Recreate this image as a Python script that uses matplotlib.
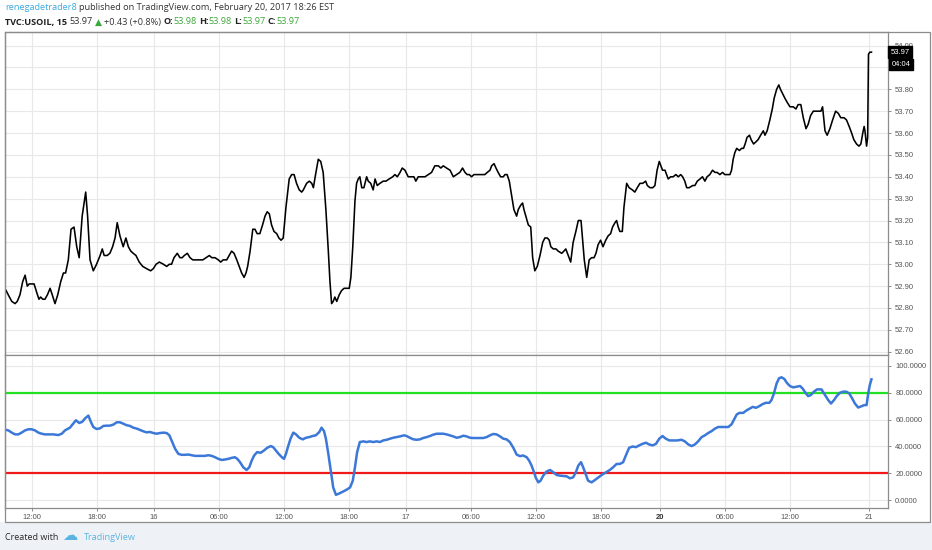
import matplotlib
matplotlib.use("Agg")
import matplotlib.pyplot as plt
from matplotlib.patches import Rectangle
from matplotlib.ticker import MultipleLocator, FormatStrFormatter, FuncFormatter

# ---- data (x = 15-minute bar number from the left edge of the chart) ----
price_bar = [
    0.4, 1.2, 2.5, 3.7, 4.5, 5.5, 6.5, 7.4, 8.2, 8.9,
    9.8, 10.7, 11.7, 12.5, 13.1, 13.9, 14.7, 15.6, 16.6, 17.4,
    18.4, 19.4, 20.5, 21.5, 22.3, 23.3, 24.3, 25.4, 26.4, 27.3,
    28.4, 29.7, 30.4, 31.3, 32.5, 33.7, 35.0, 35.8, 36.5, 37.6,
    38.6, 39.6, 40.5, 41.3, 42.3, 43.5, 44.5, 45.4, 46.3, 47.2,
    48.2, 49.4, 50.7, 52.1, 53.6, 54.6, 55.6, 56.8, 58.3, 59.5,
    60.5, 61.3, 62.2, 63.4, 64.4, 65.2, 66.0, 67.1, 68.1, 69.1,
    70.3, 71.5, 72.8, 74.0, 75.2, 76.1, 77.3, 78.5, 79.4, 80.3,
    81.6, 82.5, 83.4, 84.3, 85.3, 86.2, 87.1, 88.0, 88.7, 89.3,
    90.2, 91.2, 92.0, 92.8, 93.8, 94.8, 95.7, 96.5, 97.3, 98.1,
    99.0, 100.0, 100.8, 101.6, 102.4, 103.4, 104.6, 105.5, 106.4, 107.3,
    108.3, 109.2, 109.8, 111.0, 112.0, 112.9, 113.5, 114.3, 115.3, 116.2,
    117.1, 118.1, 119.0, 119.6, 120.2, 120.8, 121.4, 122.1, 123.0, 123.9,
    124.8, 125.7, 126.7, 127.3, 128.0, 128.8, 129.4, 130.0, 130.6, 131.3,
    132.1, 133.1, 133.7, 134.6, 135.5, 136.2, 137.0, 138.0, 139.2, 140.2,
    141.4, 142.7, 143.5, 144.4, 145.4, 146.2, 147.2, 148.4, 149.7, 150.5,
    151.2, 152.1, 153.3, 154.6, 155.8, 157.0, 158.2, 159.5, 160.4, 161.3,
    162.5, 163.8, 165.0, 166.2, 167.4, 168.4, 169.3, 170.1, 170.9, 171.7,
    172.6, 173.6, 174.5, 175.7, 176.6, 177.5, 178.5, 179.1, 180.0, 180.7,
    181.5, 182.4, 183.4, 184.0, 184.8, 185.6, 186.5, 187.3, 188.3, 188.9,
    189.8, 190.5, 191.0, 191.7, 192.6, 193.5, 193.8, 194.2, 195.0, 195.9,
    196.9, 197.9, 198.7, 199.6, 200.3, 200.9, 201.8, 202.8, 203.6, 204.9,
    205.7, 206.4, 207.3, 208.2, 209.1, 210.1, 211.0, 212.0, 212.6, 213.2,
    214.1, 215.0, 215.9, 216.8, 217.5, 218.3, 219.2, 220.1, 221.1, 222.0,
    222.9, 223.6, 224.5, 225.1, 225.7, 226.3, 227.2, 227.8, 228.8, 229.7,
    230.9, 231.8, 232.7, 233.7, 234.7, 235.8, 236.4, 237.4, 238.4, 239.2,
    240.0, 240.8, 241.4, 242.0, 242.9, 243.5, 244.1, 245.0, 245.9, 246.9,
    247.8, 248.7, 249.4, 250.2, 250.9, 251.8, 253.1, 253.9, 254.8, 255.8,
    256.7, 257.6, 258.4, 259.4, 260.4, 261.3, 262.1, 263.1, 264.1, 264.9,
    265.8, 266.8, 267.4, 268.0, 268.6, 269.3, 270.3, 271.1, 271.8, 272.4,
    273.1, 274.0, 274.6, 275.5, 276.4, 277.2, 278.1, 279.1, 279.7, 280.5,
    281.5, 282.4, 283.1, 284.0, 284.8, 285.4, 286.2, 287.0, 287.9, 288.9,
    290.1, 291.1, 291.9, 292.9, 293.8, 294.8, 295.6, 296.5, 297.5, 298.5,
    299.3, 300.3, 300.9, 301.8, 302.6, 303.6, 304.6, 305.7, 306.7, 307.6,
    308.8, 309.7, 310.7, 311.6, 312.4, 313.4, 314.3, 315.0, 315.7, 316.2,
    316.5, 317.1, 317.5, 317.8, 318.3, 318.9,
]
price_close = [
    52.88, 52.86, 52.83, 52.82, 52.83, 52.86, 52.92, 52.95, 52.90, 52.91,
    52.91, 52.91, 52.87, 52.84, 52.85, 52.84, 52.84, 52.86, 52.89, 52.86,
    52.82, 52.86, 52.92, 52.96, 52.96, 53.02, 53.16, 53.17, 53.08, 53.03,
    53.22, 53.33, 53.22, 53.02, 52.97, 53.00, 53.04, 53.07, 53.04, 53.04,
    53.05, 53.08, 53.12, 53.19, 53.13, 53.08, 53.12, 53.08, 53.06, 53.05,
    53.04, 53.01, 52.99, 52.98, 52.97, 52.98, 53.00, 53.01, 53.00, 52.99,
    53.00, 53.00, 53.03, 53.05, 53.03, 53.03, 53.04, 53.05, 53.03, 53.02,
    53.02, 53.02, 53.02, 53.03, 53.04, 53.03, 53.03, 53.02, 53.01, 53.02,
    53.02, 53.04, 53.06, 53.05, 53.02, 52.99, 52.96, 52.94, 52.96, 52.99,
    53.06, 53.16, 53.16, 53.14, 53.14, 53.18, 53.22, 53.24, 53.23, 53.18,
    53.15, 53.14, 53.12, 53.11, 53.12, 53.26, 53.39, 53.41, 53.41, 53.37,
    53.34, 53.33, 53.34, 53.37, 53.38, 53.37, 53.35, 53.41, 53.48, 53.47,
    53.42, 53.25, 53.06, 52.92, 52.82, 52.83, 52.85, 52.83, 52.86, 52.88,
    52.89, 52.89, 52.89, 52.94, 53.08, 53.29, 53.37, 53.39, 53.40, 53.35,
    53.35, 53.40, 53.38, 53.37, 53.34, 53.39, 53.36, 53.37, 53.38, 53.38,
    53.39, 53.40, 53.41, 53.40, 53.42, 53.44, 53.43, 53.40, 53.40, 53.40,
    53.38, 53.40, 53.40, 53.40, 53.41, 53.42, 53.45, 53.45, 53.44, 53.45,
    53.44, 53.43, 53.40, 53.41, 53.42, 53.44, 53.42, 53.41, 53.41, 53.40,
    53.41, 53.41, 53.41, 53.41, 53.41, 53.42, 53.43, 53.45, 53.46, 53.44,
    53.42, 53.40, 53.40, 53.41, 53.41, 53.38, 53.31, 53.25, 53.22, 53.25,
    53.27, 53.28, 53.25, 53.22, 53.18, 53.17, 53.11, 53.03, 52.97, 52.99,
    53.04, 53.10, 53.12, 53.12, 53.11, 53.08, 53.07, 53.07, 53.06, 53.05,
    53.06, 53.07, 53.04, 53.01, 53.10, 53.15, 53.20, 53.20, 53.11, 53.02,
    52.94, 53.02, 53.03, 53.03, 53.05, 53.09, 53.11, 53.08, 53.11, 53.13,
    53.14, 53.17, 53.19, 53.20, 53.17, 53.15, 53.15, 53.26, 53.37, 53.35,
    53.34, 53.33, 53.35, 53.37, 53.37, 53.38, 53.36, 53.35, 53.35, 53.36,
    53.43, 53.47, 53.45, 53.43, 53.43, 53.41, 53.39, 53.40, 53.40, 53.41,
    53.40, 53.41, 53.40, 53.38, 53.35, 53.35, 53.36, 53.36, 53.38, 53.39,
    53.40, 53.38, 53.40, 53.41, 53.43, 53.42, 53.42, 53.41, 53.42, 53.41,
    53.41, 53.41, 53.43, 53.48, 53.51, 53.53, 53.52, 53.53, 53.53, 53.55,
    53.58, 53.59, 53.57, 53.55, 53.56, 53.57, 53.59, 53.61, 53.59, 53.61,
    53.66, 53.71, 53.76, 53.80, 53.82, 53.80, 53.78, 53.76, 53.74, 53.72,
    53.72, 53.71, 53.73, 53.73, 53.67, 53.62, 53.64, 53.68, 53.70, 53.70,
    53.70, 53.70, 53.72, 53.61, 53.59, 53.62, 53.66, 53.70, 53.69, 53.67,
    53.67, 53.66, 53.63, 53.60, 53.57, 53.55, 53.54, 53.55, 53.60, 53.63,
    53.61, 53.54, 53.58, 53.96, 53.97, 53.97,
]

osc_bar = [
    0.0, 1.2, 2.5, 3.7, 4.9, 6.1, 7.4, 8.6, 9.8, 11.0,
    12.3, 13.5, 14.7, 16.6, 17.8, 19.6, 20.9, 22.1, 23.9, 25.1,
    26.1, 27.3, 28.4, 29.4, 30.7, 31.5, 32.5, 33.7, 35.0, 36.2,
    37.4, 38.6, 39.9, 41.1, 42.3, 43.5, 44.8, 46.0, 47.2, 48.5,
    49.7, 50.9, 52.1, 53.4, 54.6, 55.8, 57.0, 58.3, 59.5, 60.5,
    61.3, 62.6, 63.8, 65.0, 66.2, 67.5, 68.7, 69.9, 71.8, 73.6,
    74.8, 76.1, 77.3, 78.5, 79.7, 81.0, 82.2, 83.4, 84.6, 85.5,
    86.5, 87.7, 88.9, 89.9, 90.8, 91.7, 92.8, 94.1, 95.3, 96.5,
    97.8, 98.7, 99.7, 100.7, 101.9, 102.7, 103.4, 104.3, 105.1, 106.1,
    107.1, 108.3, 109.6, 110.8, 112.0, 113.2, 114.4, 115.7, 116.5, 117.4,
    118.1, 119.0, 119.9, 120.8, 121.8, 123.0, 124.3, 125.7, 127.0, 128.0,
    128.8, 129.6, 130.6, 131.9, 133.1, 134.3, 135.5, 136.8, 138.0, 139.2,
    140.5, 141.7, 142.9, 144.1, 145.4, 146.8, 147.8, 149.0, 150.3, 151.5,
    152.7, 153.9, 155.2, 156.4, 157.6, 158.9, 160.1, 161.3, 162.5, 165.0,
    166.2, 167.4, 168.7, 169.9, 171.1, 172.3, 173.6, 174.8, 176.0, 177.3,
    178.5, 179.7, 180.9, 182.2, 183.4, 184.6, 185.8, 187.1, 188.3, 189.5,
    190.7, 192.0, 192.9, 193.8, 194.7, 195.4, 196.3, 197.1, 198.1, 199.3,
    200.6, 201.8, 203.0, 204.2, 205.5, 206.7, 207.9, 209.1, 210.1, 211.0,
    212.0, 212.8, 213.7, 214.6, 215.9, 217.1, 218.4, 219.6, 220.8, 222.6,
    223.8, 225.1, 226.3, 227.5, 228.5, 229.7, 231.0, 232.2, 233.4, 234.7,
    235.9, 237.1, 238.4, 239.6, 240.8, 242.0, 243.2, 244.5, 245.9, 247.4,
    249.0, 250.2, 251.5, 252.7, 253.9, 255.1, 256.4, 257.6, 258.8, 260.1,
    261.3, 262.5, 263.7, 265.0, 266.2, 267.4, 268.4, 269.3, 270.3, 271.7,
    273.0, 274.2, 275.2, 276.4, 277.6, 278.8, 280.0, 281.3, 282.1, 283.0,
    284.0, 284.9, 285.8, 286.8, 287.9, 288.9, 290.1, 291.3, 292.6, 293.5,
    294.8, 295.6, 296.6, 297.7, 298.9, 300.5, 301.8, 303.0, 304.0, 305.1,
    306.1, 307.3, 308.5, 309.7, 310.7, 311.8, 312.8, 314.0, 315.3, 316.2,
    317.1, 317.7, 318.3, 318.9,
]
osc_value = [
    52.5, 52.0, 50.3, 49.0, 49.0, 50.3, 52.0, 52.8, 52.8, 52.0,
    50.3, 49.5, 49.0, 49.0, 49.0, 48.5, 49.5, 52.0, 54.0, 57.0,
    59.5, 57.5, 58.3, 60.8, 63.0, 58.8, 54.5, 53.0, 53.5, 55.3,
    55.5, 55.5, 56.3, 58.0, 58.0, 57.0, 55.8, 55.3, 54.0, 53.3,
    52.3, 51.3, 50.5, 50.8, 50.0, 49.5, 50.0, 50.3, 50.0, 48.3,
    44.5, 38.3, 34.5, 33.8, 33.8, 34.0, 33.5, 33.0, 33.0, 33.0,
    33.5, 33.0, 32.0, 30.8, 30.0, 30.3, 30.8, 31.5, 32.0, 30.8,
    28.3, 24.5, 22.5, 24.5, 29.5, 33.3, 35.8, 35.3, 37.0, 39.0,
    40.3, 39.5, 37.0, 34.5, 32.0, 30.8, 34.5, 40.8, 45.8, 50.3,
    49.0, 46.5, 45.3, 46.5, 47.0, 47.8, 48.3, 50.8, 54.0, 51.5,
    45.8, 34.5, 22.0, 9.5, 4.0, 5.0, 6.3, 7.8, 9.5, 14.5,
    24.5, 35.8, 43.3, 43.8, 43.3, 43.8, 43.3, 43.8, 43.3, 44.5,
    45.0, 45.8, 46.5, 47.0, 47.5, 48.3, 47.8, 46.5, 45.3, 45.0,
    45.3, 46.3, 47.0, 47.8, 48.8, 49.5, 49.5, 49.5, 49.0, 47.5,
    46.5, 47.0, 48.0, 47.5, 46.5, 46.3, 46.3, 46.3, 46.3, 47.0,
    48.3, 49.3, 49.0, 47.5, 45.8, 45.3, 43.3, 39.0, 34.0, 32.8,
    33.3, 32.0, 29.5, 25.8, 20.8, 16.5, 13.3, 14.5, 18.3, 21.3,
    22.5, 20.8, 18.8, 18.3, 18.0, 17.8, 16.3, 17.0, 20.8, 25.8,
    28.3, 24.5, 19.5, 14.5, 13.3, 15.0, 17.0, 18.8, 20.3, 22.5,
    24.5, 27.0, 27.0, 28.3, 33.3, 39.0, 40.0, 39.5, 40.8, 42.0,
    42.8, 41.5, 40.8, 42.0, 45.8, 47.8, 45.8, 44.5, 44.5, 44.5,
    45.0, 43.8, 41.5, 40.3, 41.5, 43.8, 47.0, 48.3, 50.0, 51.5,
    53.3, 54.5, 54.5, 54.5, 54.5, 56.5, 60.3, 63.8, 65.0, 65.0,
    67.0, 68.3, 69.5, 68.8, 70.0, 71.5, 72.5, 72.5, 74.5, 79.5,
    87.0, 90.8, 91.5, 90.3, 87.0, 85.0, 84.0, 84.5, 85.0, 83.3,
    79.5, 77.5, 78.3, 80.8, 82.5, 82.5, 78.3, 74.5, 72.0, 74.5,
    77.5, 80.0, 80.8, 80.8, 79.5, 75.8, 72.0, 69.0, 70.0, 70.8,
    70.8, 79.5, 85.8, 90.0,
]
upper_band = 80
lower_band = 20

tick_bars = [9.8, 33.7, 54.8, 78.8, 102.8, 126.7, 147.5, 171.5,
             195.5, 219.4, 241.0, 265.1, 289.0, 318.1]
tick_labels = ["12:00", "18:00", "16", "06:00", "12:00", "18:00", "17",
               "06:00", "12:00", "18:00", "20", "06:00", "12:00", "21"]

# ---- layout helpers (pixel -> figure fraction) ----
W, H = 932, 550
fig = plt.figure(figsize=(W / 100, H / 100), dpi=100)
fig.patch.set_facecolor("white")


def fx(px):
    return px / W


def fy(py):
    return 1 - py / H


GRID = "#e8e8e8"
FRAME = "#8c8c8c"
LABEL = "#555555"
AXFONT = "Liberation Sans"

# footer band
fig.patches.append(Rectangle((0, 0), 1, fy(522), transform=fig.transFigure,
                             facecolor="#eef2f6", edgecolor="none", zorder=-5))

left, right = 5, 887.5
ax_p = fig.add_axes([fx(left), fy(355), fx(right) - fx(left), fy(32) - fy(355)])
ax_s = fig.add_axes([fx(left), fy(508), fx(right) - fx(left), fy(355) - fy(508)])

for ax in (ax_p, ax_s):
    ax.set_facecolor("white")
    ax.set_xlim(0, 324.8)
    ax.set_xticks(tick_bars)
    ax.grid(True, color=GRID, linewidth=0.8)
    ax.set_axisbelow(True)
    for sp in ax.spines.values():
        sp.set_color(FRAME)
        sp.set_linewidth(0.9)
    ax.yaxis.tick_right()
    ax.tick_params(axis="y", which="both", direction="out", length=2.5,
                   width=0.7, color=FRAME, labelsize=5.5, labelcolor=LABEL, pad=3)

last = price_close[-1]


def price_fmt(v, pos):
    # the level just under the last-price tag is hidden behind the countdown box
    if last - 0.12 < v < last - 0.03:
        return ""
    return f"{v:.2f}"


# price pane
ax_p.plot(price_bar, price_close, color="black", linewidth=1.15, zorder=3)
ax_p.set_ylim(52.585, 54.062)
ax_p.yaxis.set_major_locator(MultipleLocator(0.1))
ax_p.yaxis.set_major_formatter(FuncFormatter(price_fmt))
ax_p.tick_params(axis="x", length=0, labelbottom=False)
for t in ax_p.get_yticklabels():
    t.set_fontfamily(AXFONT)

ax_p.annotate(f"{last:.2f}", xy=(1, last),
              xycoords=("axes fraction", "data"), xytext=(2.2, 0),
              textcoords="offset points", ha="left", va="center",
              color="white", fontsize=5.5, family=AXFONT,
              bbox=dict(boxstyle="square,pad=0.3", fc="black", ec="black"),
              annotation_clip=False, zorder=10)
ax_p.annotate("04:04", xy=(1, last),
              xycoords=("axes fraction", "data"), xytext=(3.0, -9),
              textcoords="offset points", ha="left", va="center",
              color="white", fontsize=5.5, family=AXFONT,
              bbox=dict(boxstyle="square,pad=0.3", fc="black", ec="black"),
              annotation_clip=False, zorder=10)

# oscillator pane
ax_s.axhline(upper_band, color="#22e022", linewidth=1.6, zorder=2)
ax_s.axhline(lower_band, color="#f01a1a", linewidth=1.6, zorder=2)
ax_s.plot(osc_bar, osc_value, color="#3b78d8", linewidth=1.8, zorder=3)
ax_s.set_ylim(-5.8, 108.1)
ax_s.yaxis.set_major_locator(MultipleLocator(20))
ax_s.yaxis.set_major_formatter(FormatStrFormatter("%.4f"))
ax_s.set_xticklabels(tick_labels)
ax_s.tick_params(axis="x", direction="out", length=2.5, width=0.7, color=FRAME,
                 labelsize=5.5, labelcolor=LABEL, pad=1.5)
for t in ax_s.get_xticklabels() + ax_s.get_yticklabels():
    t.set_fontfamily(AXFONT)
    if t.get_text() == "20":
        t.set_fontweight("bold")
        t.set_color("#333333")

# outer chart frame
fig.patches.append(Rectangle((fx(5), fy(522)), fx(930) - fx(5), fy(32) - fy(522),
                             transform=fig.transFigure, fill=False,
                             edgecolor=FRAME, linewidth=0.9, zorder=5))

# ---- header / footer text ----
renderer = fig.canvas.get_renderer()
HFONT = ["Open Sans", "DejaVu Sans"]


def space_width(size, weight):
    a = fig.text(0, 0, "a a", fontsize=size, fontweight=weight, family=HFONT)
    b = fig.text(0, 0, "aa", fontsize=size, fontweight=weight, family=HFONT)
    w = a.get_window_extent(renderer).width - b.get_window_extent(renderer).width
    a.remove()
    b.remove()
    return w


def text_run(x_px, y_px, pieces, size):
    x = x_px
    for s, color, weight, gap in pieces:
        t = fig.text(fx(x), fy(y_px), s, color=color, fontsize=size,
                     fontweight=weight, family=HFONT, ha="left", va="center")
        x += t.get_window_extent(renderer).width
        x += gap * space_width(size, weight)


DARK = "#333333"
GREEN = "#3aa83a"
text_run(5, 8, [
    ("renegadetrader8", "#3ba9e0", "normal", 1),
    ("published on TradingView.com, February 20, 2017 18:26 EST", DARK, "normal", 0),
], 6.6)
text_run(5, 22, [
    ("TVC:USOIL, 15", "#222222", "bold", 1),
    ("53.97", DARK, "normal", 1),
    ("\u25b2", GREEN, "normal", 1),
    ("+0.43 (+0.8%)", DARK, "normal", 1),
    ("O:", "#222222", "bold", 0),
    ("53.98", GREEN, "normal", 1),
    ("H:", "#222222", "bold", 0),
    ("53.98", GREEN, "normal", 1),
    ("L:", "#222222", "bold", 0),
    ("53.97", GREEN, "normal", 1),
    ("C:", "#222222", "bold", 0),
    ("53.97", GREEN, "normal", 0),
], 6.6)

fig.text(fx(5), fy(537), "Created with", color="#2a2a2a", fontsize=6.5,
         family=HFONT, ha="left", va="center")
fig.text(fx(62), fy(536), "\u2601", color="#5ab4e2", fontsize=11,
         family=["DejaVu Sans"], ha="left", va="center")
fig.text(fx(84), fy(537), "TradingView", color="#5ab4e2", fontsize=6.6,
         family=HFONT, ha="left", va="center")

fig.savefig("out.png", dpi=100, facecolor=fig.get_facecolor())
